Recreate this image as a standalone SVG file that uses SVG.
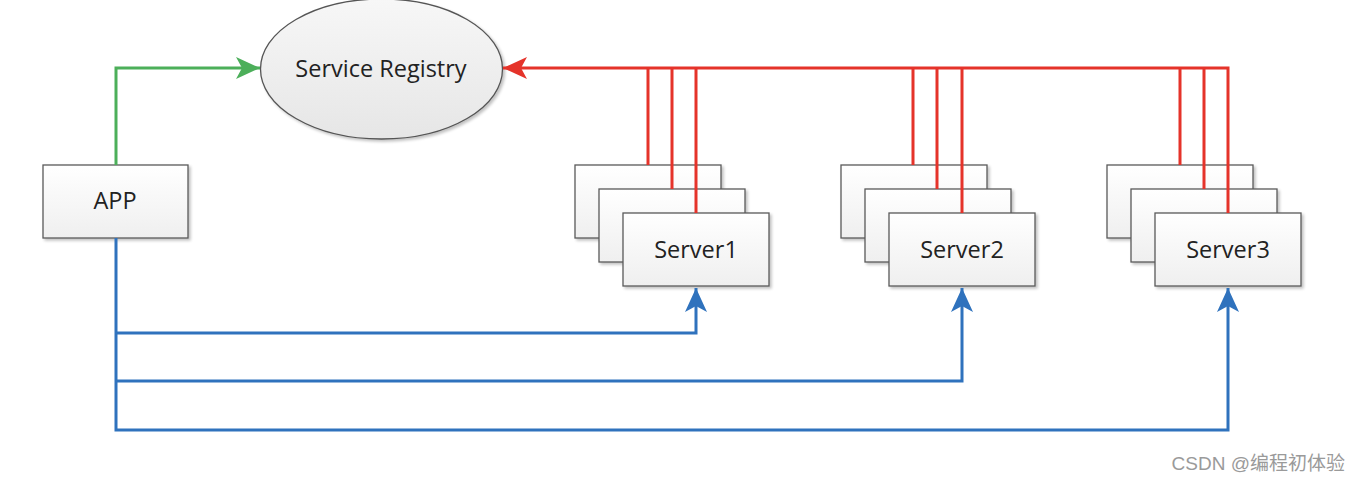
<svg xmlns="http://www.w3.org/2000/svg" width="1360" height="482" viewBox="0 0 1360 482">
<defs>
<linearGradient id="boxg" x1="0" y1="0" x2="0" y2="1">
<stop offset="0" stop-color="#ffffff"/><stop offset="1" stop-color="#efefef"/>
</linearGradient>
<linearGradient id="ellg" x1="0" y1="0" x2="0" y2="1">
<stop offset="0" stop-color="#f7f7f7"/><stop offset="1" stop-color="#e6e6e6"/>
</linearGradient>
<filter id="sh" x="-10%" y="-10%" width="130%" height="130%">
<feGaussianBlur in="SourceAlpha" stdDeviation="1.5"/>
<feOffset dx="2" dy="2"/>
<feComponentTransfer><feFuncA type="linear" slope="0.25"/></feComponentTransfer>
<feMerge><feMergeNode/><feMergeNode in="SourceGraphic"/></feMerge>
</filter>
<marker id="ag" markerUnits="userSpaceOnUse" markerWidth="26" markerHeight="22" refX="24" refY="11" orient="auto"><path d="M0,0 L24,11 L0,22 L6,11 Z" fill="#4caf5a"/></marker>
<marker id="ar" markerUnits="userSpaceOnUse" markerWidth="26" markerHeight="22" refX="24" refY="11" orient="auto"><path d="M0,0 L24,11 L0,22 L6,11 Z" fill="#e5332a"/></marker>
<marker id="ab" markerUnits="userSpaceOnUse" markerWidth="26" markerHeight="22" refX="24" refY="11" orient="auto"><path d="M0,0 L24,11 L0,22 L6,11 Z" fill="#2f72bd"/></marker>
</defs>
<style>
.box{fill:url(#boxg);stroke:#5a5a5a;stroke-width:1.3;filter:url(#sh)}
.lbl{font-family:"Open Sans","Liberation Sans",sans-serif;font-size:23.5px;fill:#222;text-anchor:middle}
.g{stroke:#4caf5a;stroke-width:3;fill:none}
.r{stroke:#e5332a;stroke-width:3;fill:none}
.b{stroke:#2f72bd;stroke-width:3;fill:none}
</style>
<rect width="1360" height="482" fill="#ffffff"/>
<g id="registry">
<ellipse cx="381.5" cy="69" rx="121" ry="70" fill="url(#ellg)" stroke="#555" stroke-width="1.3" filter="url(#sh)"/>
<text class="lbl" x="381" y="77">Service Registry</text>
</g>
<g id="app">
<rect class="box" x="43" y="165" width="145" height="73"/>
<text class="lbl" x="115" y="209">APP</text>
</g>
<g id="server1">
<rect class="box" x="575" y="165" width="146" height="73"/>
<rect class="box" x="599" y="189" width="146" height="73"/>
<rect class="box" x="623" y="213" width="146" height="73"/>
<text class="lbl" x="696" y="258">Server1</text>
</g>
<g id="server2">
<rect class="box" x="841" y="165" width="146" height="73"/>
<rect class="box" x="865" y="189" width="146" height="73"/>
<rect class="box" x="889" y="213" width="146" height="73"/>
<text class="lbl" x="962" y="258">Server2</text>
</g>
<g id="server3">
<rect class="box" x="1107" y="165" width="146" height="73"/>
<rect class="box" x="1131" y="189" width="146" height="73"/>
<rect class="box" x="1155" y="213" width="146" height="73"/>
<text class="lbl" x="1228" y="258">Server3</text>
</g>
<g id="connectors">
<path class="g" d="M116,165 V68 H260" marker-end="url(#ag)"/>
<path class="r" d="M1228,213 V68 H503" marker-end="url(#ar)"/>
<path class="r" d="M648,165 V68 M672,189 V68 M696,213 V68"/>
<path class="r" d="M913,165 V68 M937,189 V68 M962,213 V68"/>
<path class="r" d="M1180,165 V68 M1204,189 V68"/>
<path class="b" d="M116,238 V430 H1228 V288" marker-end="url(#ab)"/>
<path class="b" d="M116,333 H696 V288" marker-end="url(#ab)"/>
<path class="b" d="M116,381 H962 V288" marker-end="url(#ab)"/>
</g>
<text x="1345" y="470" text-anchor="end" font-family="'Liberation Sans','Noto Sans CJK SC',sans-serif" font-size="19" fill="#9a9a9a">CSDN @编程初体验</text>
</svg>
